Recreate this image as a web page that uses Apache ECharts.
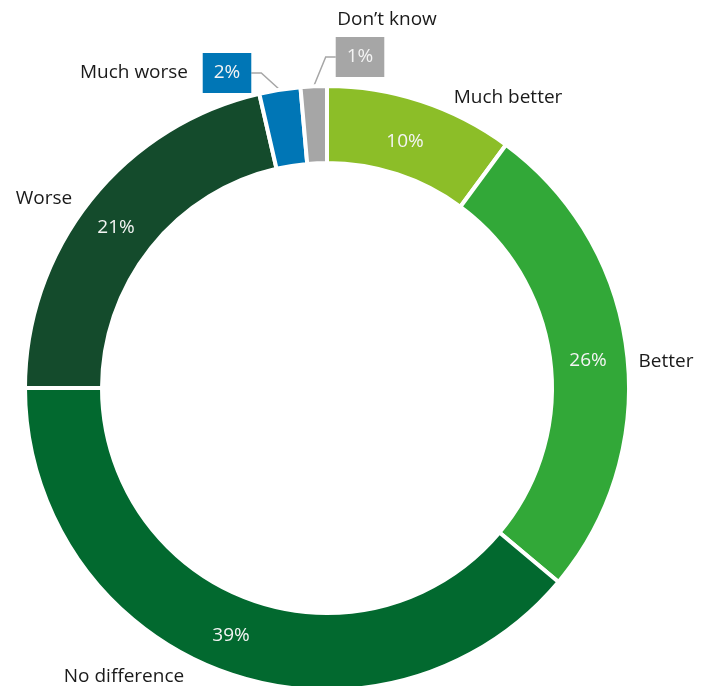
<!DOCTYPE html>
<html>
<head>
<meta charset="utf-8">
<script src="https://cdn.jsdelivr.net/npm/echarts@6/dist/echarts.min.js"></script>
<style>
  html, body { margin: 0; padding: 0; background: #fff; }
  #chart { width: 704px; height: 686px; }
</style>
</head>
<body>
<div id="chart"></div>
<script>
// data (share of answers, %)
const categories = ['Much better', 'Better', 'No difference', 'Worse', 'Much worse', 'Don\u2019t know'];
const shares = [10.1, 26.0, 38.9, 21.4, 2.2, 1.4];
const colors = ['#8cbe28', '#32a838', '#02692f', '#144b2c', '#0076b6', '#a6a6a6'];

// label placement (hand placed in the original)
const nameSpots = [[508, 98], [666, 362], [124, 677], [44, 199], [134, 73], [387, 20]];
const pctSpots = [[405, 142], [588, 361], [231, 636], [116, 228], [227, 73], [360, 57]];
const boxed = [false, false, false, false, true, true];

const font = '"Open Sans", "Noto Sans", sans-serif';
const chart = echarts.init(document.getElementById('chart'));

const ringData = categories.map((name, i) => ({
  name: name,
  value: shares[i],
  itemStyle: { color: colors[i] },
  label: boxed[i]
    ? { position: 'outside', backgroundColor: colors[i], padding: [10, 11], lineHeight: 20 }
    : { position: 'inside' },
  labelLine: { show: boxed[i] }
}));

const nameData = categories.map((name, i) => ({ name: name, value: shares[i] }));

chart.setOption({
  animation: false,
  series: [
    {
      type: 'pie',
      center: [327, 388],
      radius: [225, 302],
      startAngle: 90,
      clockwise: true,
      avoidLabelOverlap: false,
      itemStyle: { borderColor: '#fff', borderWidth: 4 },
      label: {
        show: true,
        color: '#f4f4f4',
        fontFamily: font,
        fontSize: 19,
        formatter: p => Math.round(p.value) + '%'
      },
      labelLine: { show: false, length: 15, length2: 10, lineStyle: { color: '#a6a6a6', width: 1.5 } },
      labelLayout: function (p) {
        const s = pctSpots[p.dataIndex];
        return { x: s[0], y: s[1], align: 'center', verticalAlign: 'middle' };
      },
      data: ringData
    },
    {
      type: 'pie',
      center: [327, 388],
      radius: [225, 302],
      startAngle: 90,
      clockwise: true,
      silent: true,
      avoidLabelOverlap: false,
      itemStyle: { color: 'rgba(0,0,0,0)', borderWidth: 0 },
      label: {
        show: true,
        position: 'outside',
        color: '#1a1a1a',
        fontFamily: font,
        fontSize: 19,
        formatter: '{b}'
      },
      labelLine: { show: false },
      labelLayout: function (p) {
        const s = nameSpots[p.dataIndex];
        return { x: s[0], y: s[1], align: 'center', verticalAlign: 'middle' };
      },
      data: nameData
    }
  ]
});
</script>
</body>
</html>
